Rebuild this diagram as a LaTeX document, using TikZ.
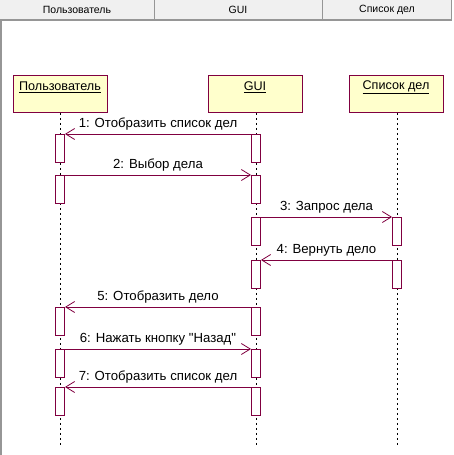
\documentclass[tikz,border=0pt]{standalone}
\usepackage{fontspec}
\setmainfont{Liberation Sans}[Ligatures=TeXOff]
\usetikzlibrary{arrows.meta}
\definecolor{umlred}{RGB}{128,0,64}
\definecolor{umlfill}{RGB}{255,255,204}
\definecolor{hdrfill}{RGB}{240,240,240}
\definecolor{hdrline}{RGB}{150,150,150}
\begin{document}
\begin{tikzpicture}[x=1pt,y=-1pt,
  objbox/.style={draw=umlred,fill=umlfill,line width=0.9pt,minimum width=94pt,minimum height=37pt,anchor=north west,inner sep=0pt},
  objlabel/.style={font=\fontsize{12.6}{14}\selectfont},
  actbox/.style={draw=umlred,fill=white,line width=0.9pt,minimum width=9pt,minimum height=28pt,anchor=north,inner sep=0pt},
  lifeline/.style={draw=black,line width=0.6pt,dash pattern=on 2.5pt off 2.5pt},
  msg/.style={draw=umlred,line width=0.9pt,-{Straight Barb[length=9pt,width=11pt,line width=0.8pt]}},
  msglabel/.style={font=\fontsize{13.2}{15}\selectfont,above=2.5pt,inner sep=1pt},
  hdrtext/.style={font=\fontsize{10.5}{12}\selectfont}]
\useasboundingbox (0,0) rectangle (454,455);
% header
\fill[hdrfill] (0,0) rectangle (452,19);
\draw[hdrline,line width=1.5pt] (0,20) -- (452,20);
\draw[hdrline,line width=1pt] (154,0) -- (154,19);
\draw[hdrline,line width=1pt] (322,0) -- (322,19);
\draw[hdrline,line width=1pt] (451.5,0) -- (451.5,19);
\draw[hdrline,line width=1.5pt] (1,20) -- (1,455);
\node[hdrtext] (h1) at (77,10) {Пользователь};
\node[hdrtext] (h2) at (238,10) {GUI};
\node[hdrtext] (h3) at (387,10) {Список дел};
% objects
\node[objbox] (user) at (13,75) {};
\node[objbox] (gui) at (208,75) {};
\node[objbox] (list) at (349,75) {};
\node[objlabel] (userl) at (60,87) {\underline{Пользователь}};
\node[objlabel] (guil) at (255,87) {\underline{GUI}};
\node[objlabel] (listl) at (396,87) {\underline{Список дел}};
% lifeline ends
\coordinate (ue) at (60,445);
\coordinate (ge) at (256,445);
\coordinate (le) at (397,445);
\draw[lifeline] (user.south -| ue) -- (ue);
\draw[lifeline] (gui.south -| ge) -- (ge);
\draw[lifeline] (list.south -| le) -- (le);
% activations
\foreach \n/\y in {1/134,2/175,3/307,4/349,5/387}{
  \node[actbox] (ua\n) at (60,\y) {};
}
\foreach \n/\y in {1/134,2/175,3/217,4/260,5/307,6/349,7/387}{
  \node[actbox] (ga\n) at (256,\y) {};
}
\foreach \n/\y in {1/217,2/260}{
  \node[actbox] (la\n) at (397,\y) {};
}
% messages
\draw[msg] (ga1.north west) -- node[msglabel] (m1) {1: Отобразить список дел} (ua1.north east);
\draw[msg] (ua2.north east) -- node[msglabel] (m2) {2: Выбор дела} (ga2.north west);
\draw[msg] (ga3.north east) -- node[msglabel] (m3) {3: Запрос дела} (la1.north west);
\draw[msg] (la2.north west) -- node[msglabel] (m4) {4: Вернуть дело} (ga4.north east);
\draw[msg] (ga5.north west) -- node[msglabel] (m5) {5: Отобразить дело} (ua3.north east);
\draw[msg] (ua4.north east) -- node[msglabel] (m6) {6: Нажать кнопку "Назад"} (ga6.north west);
\draw[msg] (ga7.north west) -- node[msglabel] (m7) {7: Отобразить список дел} (ua5.north east);
\end{tikzpicture}
\end{document}
